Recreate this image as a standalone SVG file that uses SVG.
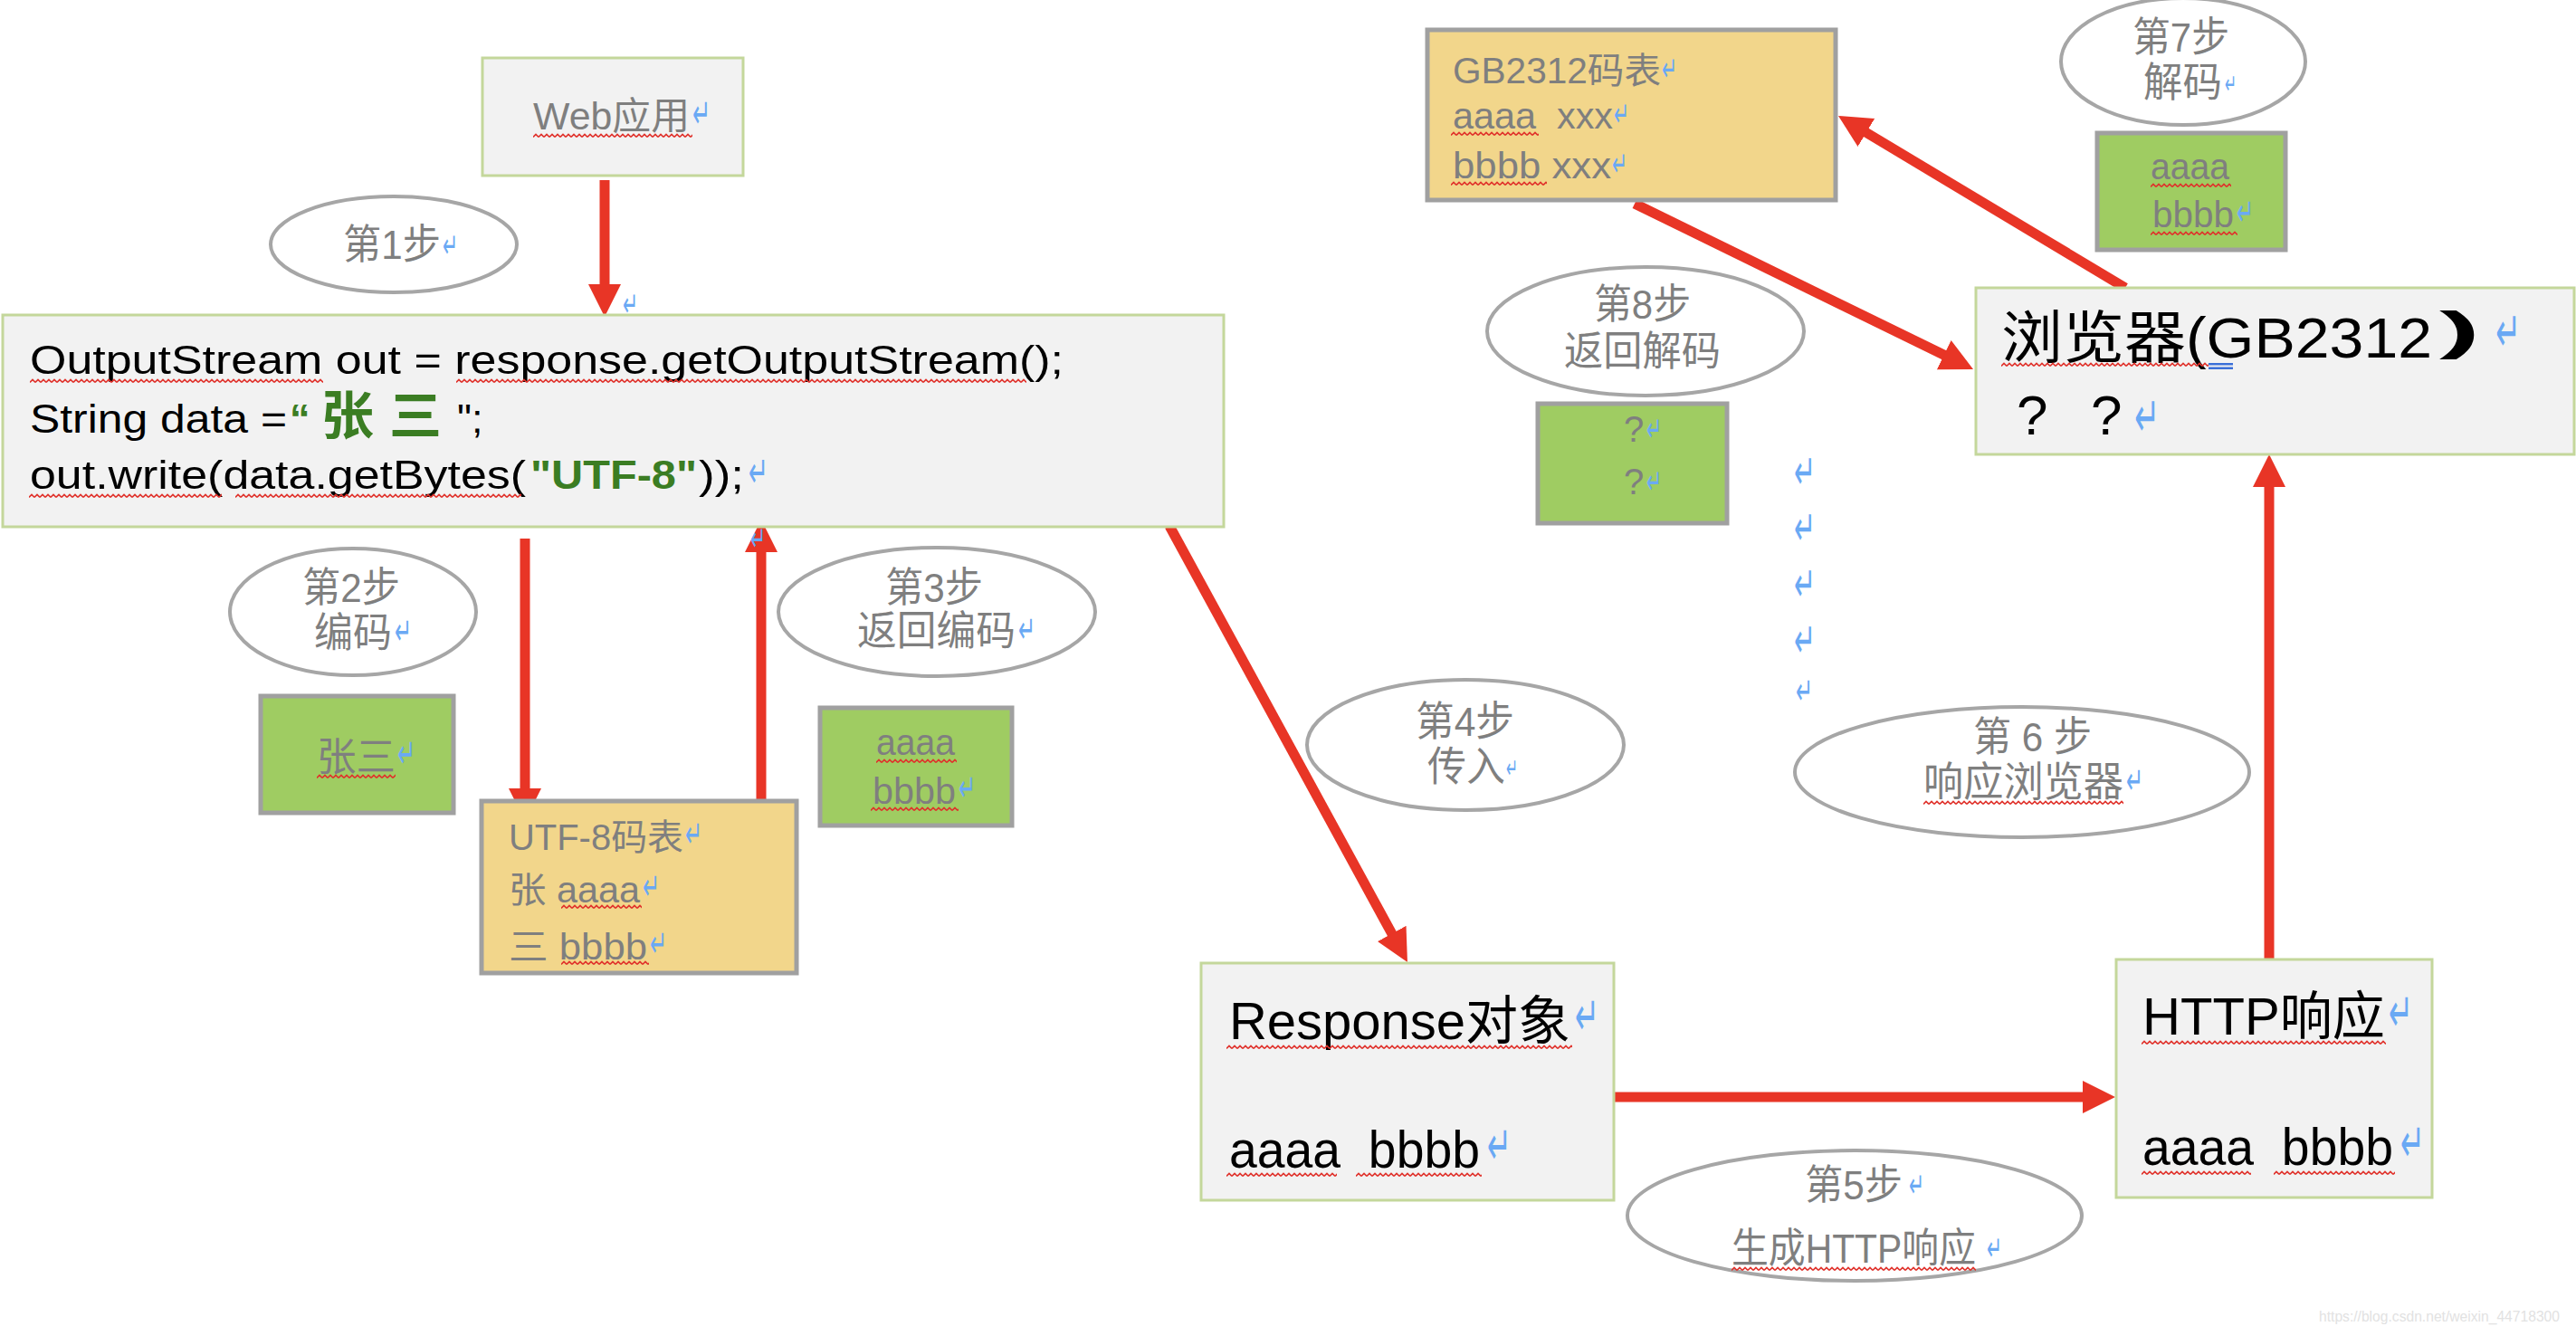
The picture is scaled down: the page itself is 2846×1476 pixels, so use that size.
<svg xmlns="http://www.w3.org/2000/svg" width="2846" height="1476" viewBox="0 0 2846 1476">
<defs>
<style>
text{font-family:'Liberation Sans','Noto Sans CJK SC',sans-serif;white-space:pre}
.box{fill:#f2f2f2;stroke:#c4d79b;stroke-width:3}
.tbl{fill:#f2d68b;stroke:#a0a0a0;stroke-width:5}
.grn{fill:#9fcc62;stroke:#a0a0a0;stroke-width:5}
.step{fill:#fff;stroke:#a6a6a6;stroke-width:4}
.g{fill:#7f7f7f}
.k{fill:#000}
.cg{fill:#3b7d23;font-weight:bold}
.rt{fill:#6aa9f4;font-family:'DejaVu Sans',sans-serif}
.sq{fill:url(#wave)}
.arr{stroke:#e83526;stroke-width:11;fill:none;marker-end:url(#ah)}
.wm{fill:#e2e2e2;font-size:17px}
</style>
<pattern id="wave" patternUnits="userSpaceOnUse" width="6" height="6"><path d="M0,4.5 L3,1.5 L6,4.5" fill="none" stroke="#e0302a" stroke-width="1.6"/></pattern>
<marker id="ah" markerUnits="userSpaceOnUse" markerWidth="36" markerHeight="36" refX="6" refY="18" orient="auto" viewBox="0 0 36 36"><path d="M0,0 L36,18 L0,36 z" fill="#e83526"/></marker>
</defs>
<rect width="2846" height="1476" fill="#fff"/>

<g id="connectors">
<line class="arr" x1="668" y1="199" x2="668" y2="320"/>
<line class="arr" x1="580" y1="595" x2="580" y2="877"/>
<line class="arr" x1="841" y1="886" x2="841" y2="604"/>
<line class="arr" x1="1292" y1="581" x2="1540.6" y2="1036.7"/>
<line class="arr" x1="1776" y1="1212" x2="2307" y2="1212"/>
<line class="arr" x1="2507" y1="1060" x2="2507" y2="532"/>
<line class="arr" x1="2348" y1="318" x2="2056.7" y2="143.4"/>
<line class="arr" x1="1806" y1="225" x2="2153.1" y2="394.8"/>
</g>

<g id="web-app">
<rect class="box" x="533" y="64" width="288" height="130"/>
<text class="g" x="589" y="143" font-size="42" textLength="173" lengthAdjust="spacingAndGlyphs">Web应用</text>
<rect class="sq" width="176" height="6" transform="translate(589,147)"/>
<text class="rt" x="765" y="141" font-size="45" textLength="20" lengthAdjust="spacingAndGlyphs">↵</text>
</g>

<g id="step1">
<ellipse class="step" cx="435" cy="270" rx="136" ry="53"/>
<text class="g" x="379" y="286" font-size="45" textLength="108" lengthAdjust="spacingAndGlyphs">第1步</text>
<text class="rt" x="489" y="284" font-size="38" textLength="17" lengthAdjust="spacingAndGlyphs">↵</text>
</g>

<g id="code">
<rect class="box" x="3" y="348" width="1349" height="234"/>
<text class="k" x="33" y="413" font-size="45" textLength="1142" lengthAdjust="spacingAndGlyphs">OutputStream out = response.getOutputStream();</text>
<rect class="sq" width="324" height="6" transform="translate(33,418)"/>
<rect class="sq" width="630" height="6" transform="translate(504,418)"/>
<text class="k" x="33" y="478" font-size="45" textLength="284" lengthAdjust="spacingAndGlyphs">String data =</text>
<text class="cg" x="320" y="478" font-size="45">“</text>
<text class="cg" x="355" y="480" font-size="58">张</text>
<text class="cg" x="430" y="480" font-size="58">三</text>
<text class="k" x="505" y="478" font-size="45">";</text>
<text class="k" x="33" y="540" font-size="45" textLength="548" lengthAdjust="spacingAndGlyphs">out.write(data.getBytes(</text>
<text class="cg" x="586" y="540" font-size="45" textLength="184" lengthAdjust="spacingAndGlyphs">"UTF-8"</text>
<text class="k" x="772" y="540" font-size="45" textLength="50" lengthAdjust="spacingAndGlyphs">));</text>
<rect class="sq" width="213" height="6" transform="translate(32,545)"/>
<rect class="sq" width="316" height="6" transform="translate(260,545)"/>
<text class="rt" x="827" y="538" font-size="48" textLength="22" lengthAdjust="spacingAndGlyphs">↵</text>
</g>

<g id="step2">
<ellipse class="step" cx="390" cy="676" rx="136" ry="70"/>
<text class="g" x="334" y="665" font-size="45" textLength="108" lengthAdjust="spacingAndGlyphs">第2步</text>
<text class="g" x="347" y="715" font-size="45" textLength="86" lengthAdjust="spacingAndGlyphs">编码</text>
<text class="rt" x="436" y="712" font-size="42" textLength="19" lengthAdjust="spacingAndGlyphs">↵</text>
</g>

<g id="zhangsan">
<rect class="grn" x="288" y="769" width="213" height="129"/>
<text class="g" x="350" y="852" font-size="44" textLength="87" lengthAdjust="spacingAndGlyphs">张三</text>
<rect class="sq" width="87" height="6" transform="translate(350,855)"/>
<text class="rt" x="439" y="848" font-size="45" textLength="20" lengthAdjust="spacingAndGlyphs">↵</text>
</g>

<g id="utf8-table">
<rect class="tbl" x="532" y="885" width="348" height="190"/>
<text class="g" x="562" y="939" font-size="40" textLength="193" lengthAdjust="spacingAndGlyphs">UTF-8码表</text>
<text class="rt" x="757" y="936" font-size="42" textLength="19" lengthAdjust="spacingAndGlyphs">↵</text>
<text class="g" x="562" y="997" font-size="40" textLength="145" lengthAdjust="spacingAndGlyphs">张 aaaa</text>
<rect class="sq" width="89" height="6" transform="translate(620,999)"/>
<text class="rt" x="710" y="994" font-size="42" textLength="19" lengthAdjust="spacingAndGlyphs">↵</text>
<text class="g" x="562" y="1060" font-size="40" textLength="153" lengthAdjust="spacingAndGlyphs">三 bbbb</text>
<rect class="sq" width="97" height="6" transform="translate(620,1061)"/>
<text class="rt" x="718" y="1057" font-size="42" textLength="19" lengthAdjust="spacingAndGlyphs">↵</text>
</g>

<g id="step3">
<ellipse class="step" cx="1035" cy="676" rx="175" ry="71"/>
<text class="g" x="978" y="665" font-size="45" textLength="108" lengthAdjust="spacingAndGlyphs">第3步</text>
<text class="g" x="947" y="713" font-size="45" textLength="175" lengthAdjust="spacingAndGlyphs">返回编码</text>
<text class="rt" x="1125" y="710" font-size="42" textLength="19" lengthAdjust="spacingAndGlyphs">↵</text>
</g>

<g id="encoded">
<rect class="grn" x="906" y="782" width="212" height="130"/>
<text class="g" x="968" y="834" font-size="40" textLength="87" lengthAdjust="spacingAndGlyphs">aaaa</text>
<rect class="sq" width="89" height="6" transform="translate(968,838)"/>
<text class="g" x="964" y="888" font-size="40" textLength="92" lengthAdjust="spacingAndGlyphs">bbbb</text>
<rect class="sq" width="97" height="6" transform="translate(962,891)"/>
<text class="rt" x="1059" y="885" font-size="42" textLength="19" lengthAdjust="spacingAndGlyphs">↵</text>
</g>

<g id="step4">
<ellipse class="step" cx="1619" cy="823" rx="175" ry="72"/>
<text class="g" x="1564" y="813" font-size="45" textLength="109" lengthAdjust="spacingAndGlyphs">第4步</text>
<text class="g" x="1577" y="863" font-size="45" textLength="86" lengthAdjust="spacingAndGlyphs">传入</text>
<text class="rt" x="1664" y="859" font-size="30" textLength="13" lengthAdjust="spacingAndGlyphs">↵</text>
</g>

<g id="response">
<rect class="box" x="1327" y="1064" width="456" height="262"/>
<text class="k" x="1358" y="1148" font-size="58" textLength="377" lengthAdjust="spacingAndGlyphs">Response对象</text>
<rect class="sq" width="382" height="6" transform="translate(1355,1154)"/>
<text class="rt" x="1740" y="1143" font-size="60" textLength="27" lengthAdjust="spacingAndGlyphs">↵</text>
<text class="k" x="1358" y="1290" font-size="58" textLength="277" lengthAdjust="spacingAndGlyphs">aaaa  bbbb</text>
<rect class="sq" width="122" height="6" transform="translate(1355,1295)"/>
<rect class="sq" width="139" height="6" transform="translate(1498,1295)"/>
<text class="rt" x="1643" y="1286" font-size="60" textLength="27" lengthAdjust="spacingAndGlyphs">↵</text>
</g>

<g id="step5">
<ellipse class="step" cx="2049" cy="1343" rx="251" ry="72"/>
<text class="g" x="1994" y="1325" font-size="45" textLength="108" lengthAdjust="spacingAndGlyphs">第5步</text>
<text class="rt" x="2109" y="1322" font-size="38" textLength="17" lengthAdjust="spacingAndGlyphs">↵</text>
<text class="g" x="1913" y="1395" font-size="45" textLength="270" lengthAdjust="spacingAndGlyphs">生成HTTP响应</text>
<rect class="sq" width="270" height="6" transform="translate(1913,1399)"/>
<text class="rt" x="2195" y="1392" font-size="38" textLength="17" lengthAdjust="spacingAndGlyphs">↵</text>
</g>

<g id="http-response">
<rect class="box" x="2338" y="1060" width="349" height="263"/>
<text class="k" x="2367" y="1143" font-size="58" textLength="268" lengthAdjust="spacingAndGlyphs">HTTP响应</text>
<rect class="sq" width="270" height="6" transform="translate(2366,1149)"/>
<text class="rt" x="2639" y="1139" font-size="60" textLength="27" lengthAdjust="spacingAndGlyphs">↵</text>
<text class="k" x="2367" y="1287" font-size="58" textLength="277" lengthAdjust="spacingAndGlyphs">aaaa  bbbb</text>
<rect class="sq" width="121" height="6" transform="translate(2366,1293)"/>
<rect class="sq" width="134" height="6" transform="translate(2512,1293)"/>
<text class="rt" x="2652" y="1283" font-size="60" textLength="27" lengthAdjust="spacingAndGlyphs">↵</text>
</g>

<g id="step6">
<ellipse class="step" cx="2234" cy="853" rx="251" ry="72"/>
<text class="g" x="2180" y="830" font-size="45" textLength="131" lengthAdjust="spacingAndGlyphs">第 6 步</text>
<text class="g" x="2125" y="880" font-size="45" textLength="221" lengthAdjust="spacingAndGlyphs">响应浏览器</text>
<rect class="sq" width="221" height="6" transform="translate(2125,884)"/>
<text class="rt" x="2349" y="877" font-size="42" textLength="19" lengthAdjust="spacingAndGlyphs">↵</text>
</g>

<g id="browser">
<rect class="box" x="2183" y="318" width="661" height="184"/>
<text class="k" x="2211" y="395" font-size="63" textLength="476" lengthAdjust="spacingAndGlyphs">浏览器(GB2312</text>
<text class="k" x="2695" y="385" font-size="58" font-weight="bold" textLength="45" lengthAdjust="spacingAndGlyphs">)</text>
<rect class="sq" width="229" height="6" transform="translate(2211,400)"/>
<rect x="2440" y="401" width="27" height="2.5" fill="#3a6fd8"/>
<rect x="2440" y="405.5" width="27" height="2.5" fill="#3a6fd8"/>
<text class="rt" x="2757" y="388" font-size="62" textLength="28" lengthAdjust="spacingAndGlyphs">↵</text>
<text class="k" x="2228" y="480" font-size="62">?</text>
<text class="k" x="2310" y="480" font-size="62">?</text>
<text class="rt" x="2358" y="482" font-size="62" textLength="28" lengthAdjust="spacingAndGlyphs">↵</text>
</g>

<g id="gb2312-table">
<rect class="tbl" x="1577" y="33" width="451" height="188"/>
<text class="g" x="1605" y="92" font-size="40" textLength="230" lengthAdjust="spacingAndGlyphs">GB2312码表</text>
<text class="rt" x="1836" y="89" font-size="38" textLength="17" lengthAdjust="spacingAndGlyphs">↵</text>
<text class="g" x="1605" y="142" font-size="40" textLength="177" lengthAdjust="spacingAndGlyphs">aaaa  xxx</text>
<rect class="sq" width="97" height="6" transform="translate(1603,145)"/>
<text class="rt" x="1783" y="139" font-size="38" textLength="17" lengthAdjust="spacingAndGlyphs">↵</text>
<text class="g" x="1605" y="197" font-size="40" textLength="175" lengthAdjust="spacingAndGlyphs">bbbb xxx</text>
<rect class="sq" width="106" height="6" transform="translate(1603,200)"/>
<text class="rt" x="1781" y="194" font-size="38" textLength="17" lengthAdjust="spacingAndGlyphs">↵</text>
</g>

<g id="step7">
<ellipse class="step" cx="2412" cy="68" rx="135" ry="70"/>
<text class="g" x="2356" y="57" font-size="45" textLength="107" lengthAdjust="spacingAndGlyphs">第7步</text>
<text class="g" x="2368" y="107" font-size="45" textLength="87" lengthAdjust="spacingAndGlyphs">解码</text>
<text class="rt" x="2458" y="103" font-size="30" textLength="13" lengthAdjust="spacingAndGlyphs">↵</text>
</g>

<g id="decoded">
<rect class="grn" x="2317" y="147" width="208" height="129"/>
<text class="g" x="2376" y="198" font-size="40" textLength="87" lengthAdjust="spacingAndGlyphs">aaaa</text>
<rect class="sq" width="89" height="6" transform="translate(2376,202)"/>
<text class="g" x="2378" y="251" font-size="40" textLength="90" lengthAdjust="spacingAndGlyphs">bbbb</text>
<rect class="sq" width="96" height="6" transform="translate(2376,255)"/>
<text class="rt" x="2471" y="249" font-size="42" textLength="19" lengthAdjust="spacingAndGlyphs">↵</text>
</g>

<g id="step8">
<ellipse class="step" cx="1818" cy="366" rx="175" ry="71"/>
<text class="g" x="1761" y="352" font-size="45" textLength="107" lengthAdjust="spacingAndGlyphs">第8步</text>
<text class="g" x="1728" y="404" font-size="45" textLength="173" lengthAdjust="spacingAndGlyphs">返回解码</text>
</g>

<g id="unknown">
<rect class="grn" x="1699" y="446" width="209" height="132"/>
<text class="g" x="1794" y="488" font-size="40">?</text>
<text class="rt" x="1819" y="487" font-size="38" textLength="17" lengthAdjust="spacingAndGlyphs">↵</text>
<text class="g" x="1794" y="546" font-size="40">?</text>
<text class="rt" x="1819" y="545" font-size="38" textLength="17" lengthAdjust="spacingAndGlyphs">↵</text>
</g>

<g id="marks">
<text class="rt" x="688" y="349" font-size="38" textLength="17" lengthAdjust="spacingAndGlyphs">↵</text>
<text class="rt" x="829" y="608" font-size="38" textLength="17" lengthAdjust="spacingAndGlyphs">↵</text>
<text class="rt" x="1982" y="540" font-size="54" textLength="24" lengthAdjust="spacingAndGlyphs">↵</text>
<text class="rt" x="1982" y="602" font-size="54" textLength="24" lengthAdjust="spacingAndGlyphs">↵</text>
<text class="rt" x="1982" y="664" font-size="54" textLength="24" lengthAdjust="spacingAndGlyphs">↵</text>
<text class="rt" x="1982" y="726" font-size="54" textLength="24" lengthAdjust="spacingAndGlyphs">↵</text>
<text class="rt" x="1984" y="778" font-size="42" textLength="19" lengthAdjust="spacingAndGlyphs">↵</text>
<text class="wm" x="2562" y="1460" textLength="266" lengthAdjust="spacingAndGlyphs">https://blog.csdn.net/weixin_44718300</text>
</g>
</svg>
